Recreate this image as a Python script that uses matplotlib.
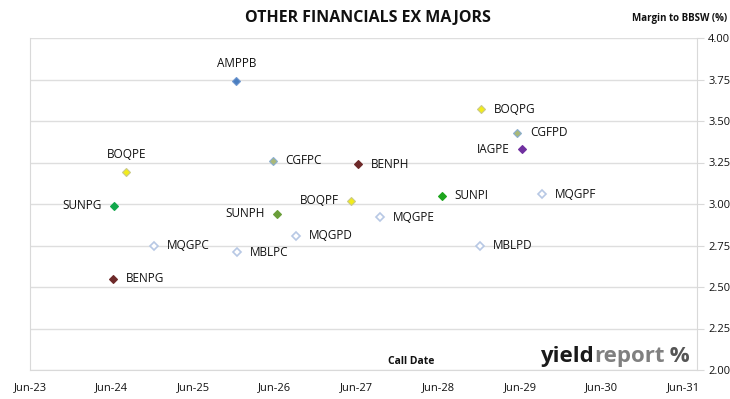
import matplotlib
matplotlib.use("Agg")
import matplotlib.pyplot as plt
from matplotlib.offsetbox import TextArea, HPacker, AnchoredOffsetbox
import pandas as pd

plt.rcParams['font.family'] = ['Open Sans', 'DejaVu Sans']

# ---- data ----
names = ["AMPPB", "BOQPE", "SUNPG", "CGFPC", "BENPH", "BOQPF", "SUNPH", "MQGPD", "MQGPC",
         "MBLPC", "BENPG", "BOQPG", "CGFPD", "IAGPE", "SUNPI", "MQGPF", "MQGPE", "MBLPD"]
call_dates = ["2025-12-10", "2024-08-05", "2024-06-10", "2026-05-24", "2027-06-08", "2027-05-08",
              "2026-06-10", "2026-09-05", "2024-12-08", "2025-12-15", "2024-06-07", "2028-12-10",
              "2029-05-20", "2029-06-12", "2028-06-15", "2029-09-08", "2027-09-15", "2028-12-05"]
margins = [3.74, 3.19, 2.99, 3.26, 3.24, 3.02, 2.94, 2.81, 2.75,
           2.71, 2.55, 3.57, 3.43, 3.33, 3.05, 3.06, 2.92, 2.75]
label_side = ["top", "top", "left", "right", "right", "left", "left", "right", "right",
              "right", "right", "right", "right", "left", "right", "right", "right", "right"]

x_tick_labels = ["Jun-23", "Jun-24", "Jun-25", "Jun-26", "Jun-27", "Jun-28", "Jun-29", "Jun-30", "Jun-31"]
y_ticks = [2.00, 2.25, 2.50, 2.75, 3.00, 3.25, 3.50, 3.75, 4.00]

# styles per issuer
styles = {
    "AMP": dict(mfc="#4A7EC0", mec="#6F97CF"),
    "BOQ": dict(mfc="#F2EC1A", mec="#C9C98A"),
    "SUN": dict(mfc="#10A84A", mec="#10A84A"),
    "CGF": dict(mfc="#A9B878", mec="#8AAED0"),
    "BEN": dict(mfc="#6E2A2A", mec="#6E2A2A"),
    "IAG": dict(mfc="#7030A0", mec="#7030A0"),
    "MQG": dict(mfc="white", mec="#B7C8E4"),
    "MBL": dict(mfc="white", mec="#B7C8E4"),
}
sun_colors = {"SUNPG": "#12A84C", "SUNPH": "#6A9E3A", "SUNPI": "#1DA51D"}

dates = pd.to_datetime(call_dates)

fig = plt.figure(figsize=(7.3, 3.99), dpi=100)
ax = fig.add_axes([30/730, 1-370/399, (697-30)/730, (370-38)/399])

for n, d, m, side in zip(names, dates, margins, label_side):
    st = dict(styles[n[:3]])
    if n in sun_colors:
        st = dict(mfc=sun_colors[n], mec=sun_colors[n])
    ax.plot([d], [m], marker="D", ms=4.3, mew=1.2 if st["mfc"] == "white" else 0.8,
            linestyle="none", zorder=3, **st)
    if side == "right":
        ax.annotate(n, (d, m), xytext=(9, 0), textcoords="offset points",
                    ha="left", va="center", fontsize=8.5, color="#111111")
    elif side == "left":
        ax.annotate(n, (d, m), xytext=(-9, 0), textcoords="offset points",
                    ha="right", va="center", fontsize=8.5, color="#111111")
    else:
        ax.annotate(n, (d, m), xytext=(0, 8), textcoords="offset points",
                    ha="center", va="bottom", fontsize=8.5, color="#111111")

tick_dates = pd.to_datetime([f"20{s[-2:]}-06-01" for s in x_tick_labels])
ax.set_xticks(tick_dates)
ax.set_xticklabels(x_tick_labels, fontsize=8, color="#111111")
ax.set_xlim(tick_dates[0], tick_dates[-1] + pd.Timedelta(days=62))
ax.tick_params(axis="x", length=0, pad=9)

ax.set_ylim(2.0, 4.0)
ax.set_yticks(y_ticks)
ax.set_yticklabels([f"{v:.2f}" for v in y_ticks], fontsize=8, color="#111111")
ax.yaxis.tick_right()
ax.tick_params(axis="y", length=5, color="#D9D9D9", pad=3)
ax.grid(axis="y", color="#DEDEDE", linewidth=1)
ax.set_axisbelow(True)
for sp in ["left", "right", "bottom", "top"]:
    ax.spines[sp].set_color("#D9D9D9")
ax.spines["top"].set_visible(False)

fig.text(368/730, 1-18/399, "OTHER FINANCIALS EX MAJORS", ha="center", va="center",
         fontsize=11.5, fontweight="bold", color="#111111")
fig.text(727/730, 1-18/399, "Margin to BBSW (%)", ha="right", va="center",
         fontsize=7, fontweight="bold", color="#111111")
fig.text(411/730, 1-362/399, "Call Date", ha="center", va="center",
         fontsize=7.5, fontweight="bold", color="#111111")

logo = HPacker(children=[
    TextArea("yield", textprops=dict(fontsize=16, fontweight="bold", color="#1a1a1a")),
    TextArea("report", textprops=dict(fontsize=16, fontweight="bold", color="#808080")),
    TextArea(" %", textprops=dict(fontsize=16, fontweight="bold", color="#555555")),
], align="baseline", pad=0, sep=0)
ab = AnchoredOffsetbox(loc="lower right", child=logo, frameon=False,
                       bbox_to_anchor=(690/730, 1-367/399), bbox_transform=fig.transFigure,
                       borderpad=0, pad=0)
fig.add_artist(ab)

fig.savefig("out.png", dpi=100)
